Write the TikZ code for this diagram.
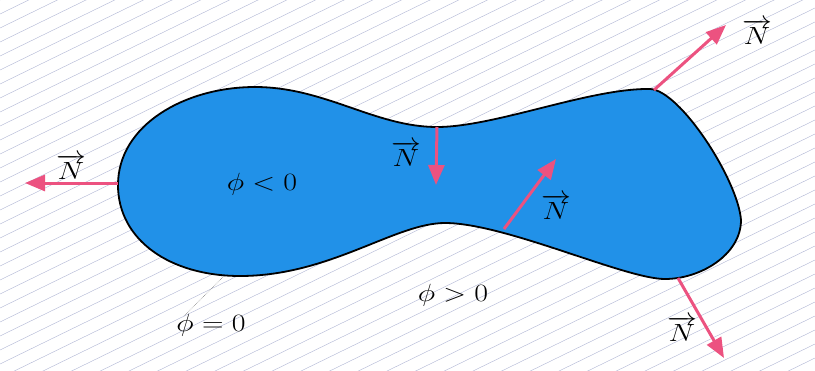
\documentclass[tikz,border=0pt]{standalone}
\usepackage{graphicx}
\usetikzlibrary{arrows.meta}
\definecolor{blobblue}{RGB}{33,145,232}
\definecolor{normalpink}{RGB}{236,82,128}
\definecolor{hatchgray}{RGB}{180,186,214}
\newcommand{\widetext}[1]{\scalebox{1.2}[1]{#1}}
\newcommand{\nvec}{\widetext{$\overrightarrow{N}$}}

\begin{document}
\begin{tikzpicture}[x=1pt, y=-1pt,
    normvec/.style={draw=normalpink, line width=3pt, -{Triangle[length=20pt, width=16pt]}},
    lbl/.style={font=\Huge, inner sep=1pt},
    leader/.style={draw=gray, densely dotted, line width=0.6pt}]
    \useasboundingbox (0,0) rectangle (815,370);
    % hatched region phi > 0
    \begin{scope}
      \clip (0,0) rectangle (815,370);
      \foreach \c in {0,14,...,784}
        \draw[hatchgray, line width=0.45pt] (0,\c) -- (815,\c-398);
    \end{scope}

    % region phi < 0 and its interface
    \draw[fill=blobblue, line width=1.8pt]
      (118,185) .. controls (118,125) and (185,87) .. (255,87)
      .. controls (325,87) and (375,127) .. (437,127)
      .. controls (495,127) and (590,88) .. (650,89)
      .. controls (680,90) and (738,180) .. (741,220)
      .. controls (741,255) and (700,279) .. (665,279)
      .. controls (625,279) and (505,223) .. (445,223)
      .. controls (395,223) and (330,276) .. (240,276)
      .. controls (170,276) and (118,240) .. cycle;

    % points on the interface and arrow ends
    \coordinate (pl) at (118,183);
    \coordinate (el) at (25,183);
    \coordinate (pn) at (437,127);
    \coordinate (en) at (436,185);
    \coordinate (pw) at (504,229);
    \coordinate (ew) at (556,159);
    \coordinate (pt) at (654,90);
    \coordinate (et) at (726,25);
    \coordinate (pb) at (678,278);
    \coordinate (eb) at (724,358);
    \coordinate (pz) at (224,276);
    \coordinate (zl) at (184,316);

    % normals
    \draw[normvec] (pl) -- (el);
    \draw[normvec] (pn) -- (en);
    \draw[normvec] (pw) -- (ew);
    \draw[normvec] (pt) -- (et);
    \draw[normvec] (pb) -- (eb);

    \node[lbl] (nleft) at (71,167) {\nvec};
    \node[lbl] (nmid) at (406,154) {\nvec};
    \node[lbl] (nneck) at (556,207) {\nvec};
    \node[lbl] (ntop) at (757,32) {\nvec};
    \node[lbl] (nbot) at (682,329) {\nvec};

    % level set labels
    \node[lbl] (neg) at (262,184) {\widetext{$\phi<0$}};
    \node[lbl] (pos) at (453,295) {\widetext{$\phi>0$}};
    \node[lbl] (zero) at (211,325) {\widetext{$\phi=0$}};
    \draw[leader] (zl) -- (pz);
\end{tikzpicture}
\end{document}
